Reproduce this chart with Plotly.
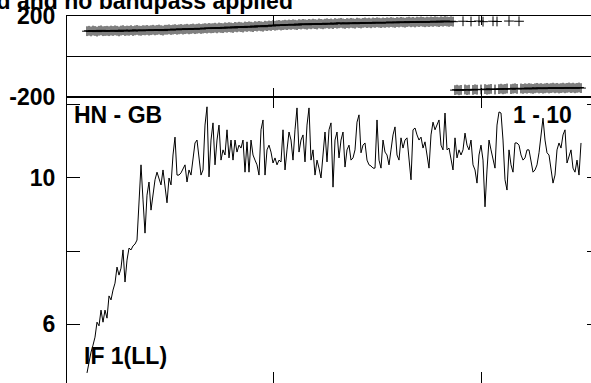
import plotly.graph_objects as go

# ---------------- data ----------------
channels = list(range(1, 249))

amplitude = [
    4.66, 5.01, 5.23, 5.42, 5.64, 6.05, 5.95, 6.38, 6.05, 6.38,
    6.16, 6.77, 6.66, 6.93, 7.12, 7.56, 7.34, 7.53, 8.03, 7.15,
    7.75, 8.08, 8.03, 8.14, 8.19, 8.30, 9.40, 10.36, 9.40, 8.49,
    9.53, 9.89, 9.12, 9.53, 9.95, 10.16, 10.00, 9.81, 10.22, 9.67,
    9.32, 10.00, 9.81, 10.63, 11.12, 10.08, 10.08, 10.14, 10.27, 10.36,
    9.89, 10.22, 10.08, 10.49, 10.96, 11.04, 10.63, 10.08, 10.22, 11.45,
    11.95, 10.03, 11.04, 11.51, 10.36, 11.04, 11.45, 10.49, 10.77, 10.63,
    11.32, 10.55, 11.04, 10.49, 11.04, 10.71, 10.90, 10.82, 11.04, 10.16,
    10.99, 10.16, 11.04, 10.63, 10.49, 10.36, 10.08, 11.32, 11.59, 10.08,
    10.77, 10.90, 10.71, 10.41, 10.55, 10.36, 10.49, 10.44, 11.32, 10.22,
    10.77, 11.26, 11.04, 10.49, 11.32, 11.92, 10.71, 11.04, 11.18, 10.44,
    11.45, 11.92, 10.49, 10.77, 10.08, 10.49, 10.27, 10.00, 10.63, 11.26,
    10.44, 11.32, 11.51, 9.75, 11.04, 11.26, 10.55, 11.04, 11.26, 10.30,
    10.77, 10.90, 10.49, 10.55, 10.77, 11.53, 11.73, 10.69, 10.90, 10.96,
    10.49, 10.36, 10.33, 10.27, 10.27, 11.59, 10.49, 10.27, 11.04, 10.71,
    10.63, 10.36, 10.77, 11.18, 11.40, 10.63, 10.49, 11.10, 10.82, 11.04,
    11.10, 10.49, 9.95, 11.32, 11.37, 11.18, 11.04, 11.12, 10.82, 10.99,
    10.55, 10.27, 11.18, 11.53, 11.32, 11.45, 11.59, 10.90, 10.77, 11.78,
    10.77, 10.82, 10.49, 10.22, 11.10, 10.55, 10.77, 10.63, 10.77, 11.23,
    10.90, 10.77, 11.04, 10.36, 10.22, 9.86, 10.63, 10.90, 10.49, 9.21,
    10.22, 11.04, 10.77, 10.49, 10.27, 11.45, 11.81, 11.78, 11.04, 9.95,
    9.67, 10.77, 10.36, 10.16, 10.96, 10.96, 10.90, 10.63, 10.49, 10.55,
    10.77, 10.77, 10.49, 10.16, 10.22, 10.36, 10.69, 11.18, 11.64, 11.04,
    10.69, 10.63, 10.22, 9.86, 10.08, 10.77, 10.96, 10.82, 11.18, 11.32,
    10.41, 10.63, 10.77, 10.27, 10.16, 10.49, 10.08, 10.96,
]

phase = [
    125, 127, 124, 128, 126, 123, 127, 129, 125, 126,
    127, 125, 128, 126, 129, 127, 124, 128, 130, 126,
    128, 127, 130, 126, 129, 131, 128, 127, 130, 129,
    131, 128, 130, 132, 129, 131, 133, 130, 128, 132,
    132, 134, 131, 133, 135, 132, 134, 136, 133, 135,
    137, 134, 136, 138, 135, 137, 139, 136, 138, 140,
    138, 141, 139, 140, 142, 139, 143, 141, 140, 144,
    142, 145, 143, 141, 146, 144, 147, 145, 143, 148,
    146, 149, 147, 145, 150, 148, 151, 149, 147, 152,
    150, 153, 151, 155, 152, 154, 156, 153, 155, 157,
    155, 158, 156, 159, 157, 155, 160, 158, 161, 159,
    157, 161, 159, 162, 160, 158, 163, 161, 159, 162,
    164, 161, 163, 160, 165, 162, 164, 166, 163, 161,
    165, 163, 166, 164, 162, 167, 165, 163, 166, 168,
    165, 167, 164, 168, 166, 169, 167, 165, 168, 166,
    169, 167, 170, 168, 166, 170, 168, 171, 169, 167,
    170, 172, 169, 171, 168, 172, 170, 173, 171, 169,
    172, 170, 173, 171, 174, 172, 170, 174, 172, 175,
    173, 171, 174, 172, -166, -164, -167, -165, 174, -163,
    -166, -164, 173, -165, -162, -164, 175, -163, 172, -161,
    -164, -162, -160, 174, -163, 173, -161, -159, -162, -160,
    -158, 175, -161, -159, -157, -160, 174, -158, -160, -157,
    -159, -156, -158, -160, -157, -155, -158, -156, -159, -157,
    -155, -158, -156, -154, -157, -155, -158, -156, -154, -157,
    -155, -153, -156, -154, -157, -155, -153, -156,
]

amp_tick_vals = [6, 8, 10, 12]
amp_tick_text = ["6", "", "10", ""]
phase_tick_vals = [-200, 0, 200]
phase_tick_text = ["-200", "", "200"]
chan_tick_vals = [94, 198]

title_text = "applied and no bandpass applied"
baseline_label = "HN - GB"
chan_label = "1 - 10"
if_label = "IF 1(LL)"

# ---------------- figure ----------------
FONT = dict(family="Liberation Sans, Arial, sans-serif", size=23, color="black", weight="bold")
CH_RANGE = [-9, 253]
AMP_RANGE = [4.384, 12.219]
SPLIT = 0.7793

fig = go.Figure()
fig.add_trace(go.Scatter(
    x=channels, y=amplitude, mode="lines",
    line=dict(color="black", width=1),
    xaxis="x", yaxis="y", hoverinfo="skip", showlegend=False,
))
fig.add_trace(go.Scatter(
    x=channels, y=phase, mode="markers",
    marker=dict(symbol="cross-thin", size=7, color="black",
                line=dict(color="black", width=1)),
    xaxis="x2", yaxis="y2", hoverinfo="skip", showlegend=False,
))
fig.add_trace(go.Scatter(
    x=[channels[0]], y=[amplitude[0]], mode="markers",
    marker=dict(opacity=0), xaxis="x", yaxis="y3",
    hoverinfo="skip", showlegend=False,
))

axis_common = dict(showgrid=False, linecolor="black", linewidth=1,
                   tickcolor="black", tickwidth=1)

fig.update_layout(
    width=591, height=383,
    margin=dict(l=67, r=0, t=16, b=0, pad=0, autoexpand=False),
    paper_bgcolor="white", plot_bgcolor="white",
    showlegend=False,
    xaxis=dict(domain=[0, 1], range=CH_RANGE, anchor="y",
               showline=True, mirror="ticks", ticks="inside", ticklen=11,
               tickvals=chan_tick_vals, showticklabels=False,
               zeroline=False, **axis_common),
    xaxis2=dict(domain=[0, 1], range=CH_RANGE, anchor="y2",
                showline=True, mirror="ticks", ticks="inside", ticklen=9,
                tickvals=chan_tick_vals, showticklabels=False,
                zeroline=False, **axis_common),
    yaxis=dict(domain=[0, SPLIT], range=AMP_RANGE, anchor="x",
               showline=True, ticks="inside", ticklen=13,
               tickvals=amp_tick_vals, ticktext=amp_tick_text,
               tickfont=FONT, zeroline=False, ticklabelstandoff=6,
               **axis_common),
    yaxis3=dict(overlaying="y", side="right", anchor="x", range=AMP_RANGE,
                ticks="inside", ticklen=4, tickvals=amp_tick_vals,
                showticklabels=False, showline=False, zeroline=False,
                **axis_common),
    yaxis2=dict(domain=[SPLIT, 1], range=[-200, 200], anchor="x2",
                showline=True, ticks="inside", ticklen=10,
                tickvals=phase_tick_vals, ticktext=phase_tick_text,
                tickfont=FONT, zeroline=True, zerolinecolor="black",
                zerolinewidth=1, ticklabelstandoff=6, **axis_common),
)

fig.add_annotation(text=title_text, xref="paper", yref="paper",
                   x=(295 - 67) / 524, y=(383 - 0.6) / 367,
                   xanchor="right", yanchor="middle", showarrow=False,
                   font=FONT)
fig.add_annotation(text=baseline_label, xref="paper", yref="paper",
                   x=(73 - 67) / 524, y=(383 - 115.5) / 367,
                   xanchor="left", yanchor="middle", showarrow=False,
                   font=FONT, borderpad=0)
fig.add_annotation(text=chan_label, xref="paper", yref="paper",
                   x=(573 - 67) / 524, y=(383 - 115.5) / 367,
                   xanchor="right", yanchor="middle", showarrow=False,
                   font=FONT, borderpad=0)
fig.add_annotation(text=if_label, xref="paper", yref="paper",
                   x=(83 - 67) / 524, y=(383 - 356) / 367,
                   xanchor="left", yanchor="middle", showarrow=False,
                   font=FONT, borderpad=0)

fig.write_html(
    "out.html",
    config={"displayModeBar": False},
    post_script=(
        "document.body.style.margin='0';"
        "document.body.style.overflow='hidden';"
        "document.documentElement.style.overflow='hidden';"
    ),
)
